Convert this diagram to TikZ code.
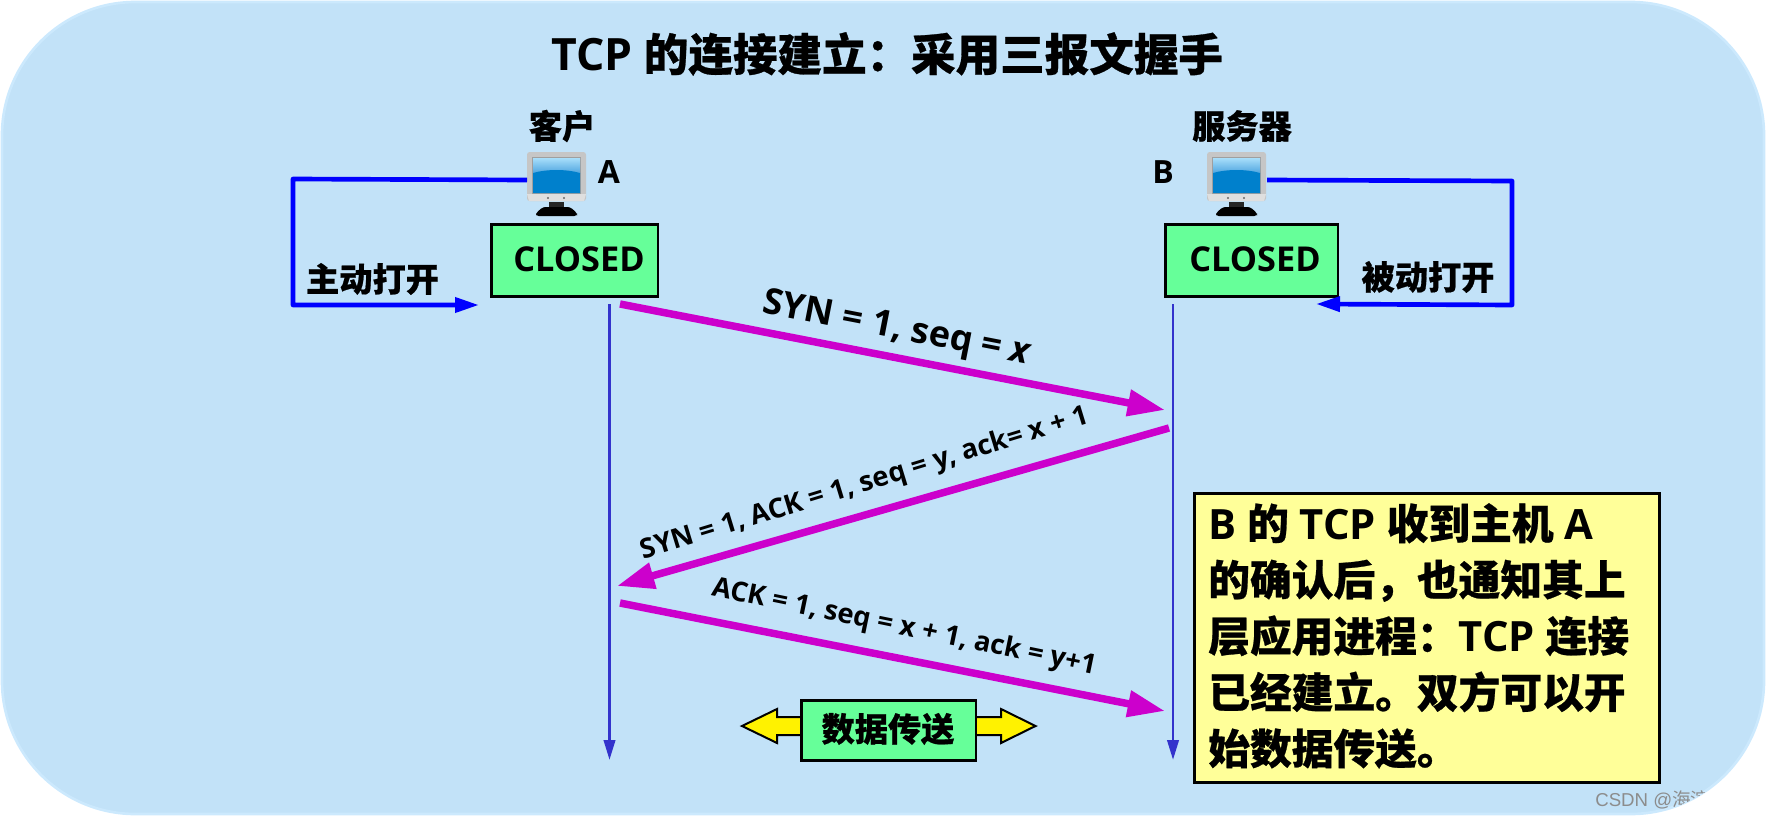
\documentclass[tikz,border=0pt]{standalone}
\usepackage{fontspec}
\usetikzlibrary{arrows.meta}
\setmainfont{Open Sans}
\newfontfamily\cjk{Noto Sans CJK SC}[BoldFeatures={FakeBold=0.6}]
\newfontfamily\wm{Liberation Sans}
\newcommand{\Z}[1]{{\cjk #1}}
\definecolor{bgblue}{HTML}{C2E2F8}
\definecolor{bgedge}{HTML}{CCE9FD}
\definecolor{boxgreen}{HTML}{66FF99}
\definecolor{notey}{HTML}{FFFF99}
\definecolor{msg}{HTML}{CC00CC}
\definecolor{life}{HTML}{3333CC}
\definecolor{loopblue}{HTML}{0000FF}
\definecolor{scrtop}{HTML}{A8DEFA}
\definecolor{scrmid}{HTML}{4FA6E0}
\definecolor{scrlow}{HTML}{0080CC}
\tikzset{
  statebox/.style={draw=black,line width=1.9pt,fill=boxgreen,inner sep=0pt,anchor=north west},
  label24/.style={font=\bfseries\fontsize{24.9}{26}\selectfont\cjk,inner sep=0pt,text=black},
  statetext/.style={font=\bfseries\fontsize{25.7}{27}\selectfont,inner sep=0pt},
  hostletter/.style={font=\bfseries\fontsize{24}{26}\selectfont,inner sep=0pt},
  msgline/.style={draw=msg,line width=5.6pt,-{Triangle[length=28pt,width=19pt]}},
  loopline/.style={draw=loopblue,line width=3.5pt,line join=round,-{Triangle[length=18pt,width=11pt]}},
  lifeline/.style={draw=life,line width=2.2pt,-{Triangle[length=15pt,width=8.5pt]}},
  msgtext/.style={font=\bfseries\fontsize{20.5}{22}\selectfont,inner sep=0pt},
  pics/monitor/.style={code={
    \fill[rounded corners=2pt,color=gray!45] (0,0) rectangle (59,49);
    \fill[color=gray!25] (0,42) -- (59,42) -- (57,49) -- (2,49) -- cycle;
    \fill[color=gray!75] (5,5) rectangle (54,42);
    \fill[top color=scrtop,bottom color=scrmid] (6,6) rectangle (53,21);
    \fill[color=scrlow] (6,21) .. controls (20,17) and (39,17) .. (53,21) -- (53,41) -- (6,41) -- cycle;
    \fill[black!60] (21,46) circle (1.2) (37,46) circle (1.2);
    \fill[black!85] (22,50) rectangle (37,56);
    \fill[black,rounded corners=2pt] (16,55) -- (43,55) -- (50,61) -- (50,64) -- (9,64) -- (9,61) -- cycle;
  }}
}
\begin{document}
\begin{tikzpicture}[x=0.75pt,y=-0.75pt]
\useasboundingbox (0,0) rectangle (1766,817);
\path[fill=bgblue,draw=bgedge,line width=2pt,rounded corners=100pt] (2,2) rectangle (1764,814);

% title
\node[inner sep=0pt,font=\bfseries\fontsize{33.4}{36}\selectfont] (title) at (887,54) {TCP \Z{的连接建立：采用三报文握手}};

% hosts
\pic at (527,152) {monitor};
\pic at (1207,152) {monitor};
\coordinate (pcA) at (527,180);
\coordinate (pcB) at (1267,180);
\node[label24] (clientlabel) at (562,126) {客户};
\node[label24] (serverlabel) at (1242,126) {服务器};
\node[hostletter] (letterA) at (609,172) {A};
\node[hostletter] (letterB) at (1163,172) {B};

% states
\node[statebox,minimum width=125pt,minimum height=54pt] (stateA) at (490,223) {};
\node[statebox,minimum width=129.5pt,minimum height=54pt] (stateB) at (1164,223) {};
\node[statetext] (closedA) at (579,259) {CLOSED};
\node[statetext] (closedB) at (1255,259) {CLOSED};

% open loops
\coordinate (loopAc1) at (293,179);
\coordinate (loopAc2) at (293,305);
\coordinate (loopAend) at (479,305);
\draw[loopline] (pcA) -- (loopAc1) -- (loopAc2) -- (loopAend);
\coordinate (loopBc1) at (1512,181);
\coordinate (loopBc2) at (1512,305);
\coordinate (loopBend) at (1316,304);
\draw[loopline] (pcB) -- (loopBc1) -- (loopBc2) -- (loopBend);
\node[label24] (openA) at (372.5,279) {主动打开};
\node[label24] (openB) at (1428,277) {被动打开};

% lifelines
\coordinate (lifeAtop) at (609.5,304);
\coordinate (lifeAbot) at (609.5,760);
\coordinate (lifeBtop) at (1173,304);
\coordinate (lifeBbot) at (1173,760);
\draw[lifeline] (lifeAtop) -- (lifeAbot);
\draw[lifeline] (lifeBtop) -- (lifeBbot);

% messages
\coordinate (m1s) at (620,304);
\coordinate (m1e) at (1165,410);
\coordinate (m2s) at (1169,428);
\coordinate (m2e) at (617,586);
\coordinate (m3s) at (620,603);
\coordinate (m3e) at (1165,711);
\draw[msgline] (m1s) -- (m1e);
\draw[msgline] (m2s) -- (m2e);
\draw[msgline] (m3s) -- (m3e);
\node[inner sep=0pt,rotate=-11,font=\bfseries\fontsize{27}{29}\selectfont] (m1t) at (897,330) {SYN = 1, seq = \textit{x}};
\node[msgtext,rotate=17] (m2t) at (865,484) {SYN = 1, ACK = 1, seq = y, ack= x + 1};
\node[msgtext,rotate=-11.6] (m3t) at (904,628) {ACK = 1, seq = x + 1, ack = y+1};

% data transfer
\path[draw=black,line width=1.5pt,fill=yellow,line join=miter]
  (742,726) -- (777,709) -- (777,717) -- (1001,717) -- (1001,709) -- (1035.5,726)
  -- (1001,743) -- (1001,735) -- (777,735) -- (777,743) -- cycle;
\node[statebox,minimum width=131pt,minimum height=45pt] (databox) at (800,699) {};
\node[label24] (datatext) at (888,729) {数据传送};

% note
\node[draw=black,line width=1.9pt,fill=notey,anchor=north west,minimum width=349pt,minimum height=217pt,inner sep=0pt] (notebox) at (1193,492) {};
\node[anchor=north west,inner sep=0pt,align=left,font=\bfseries\fontsize{31.3}{42.2}\selectfont] (notetext) at (1208,503) {B \Z{的} TCP \Z{收到主机} A\\\Z{的确认后，也通知其上}\\\Z{层应用进程：}TCP \Z{连接}\\\Z{已经建立。双方可以开}\\\Z{始数据传送。}};

% watermark
\begin{scope}
\clip[rounded corners=100pt] (2,2) rectangle (1764,814);
\node[anchor=west,inner sep=0pt,text=black!45,font=\fontsize{14}{16}\selectfont\wm] (mark) at (1595,800) {CSDN @\Z{海滨}};
\end{scope}
\end{tikzpicture}
\end{document}
